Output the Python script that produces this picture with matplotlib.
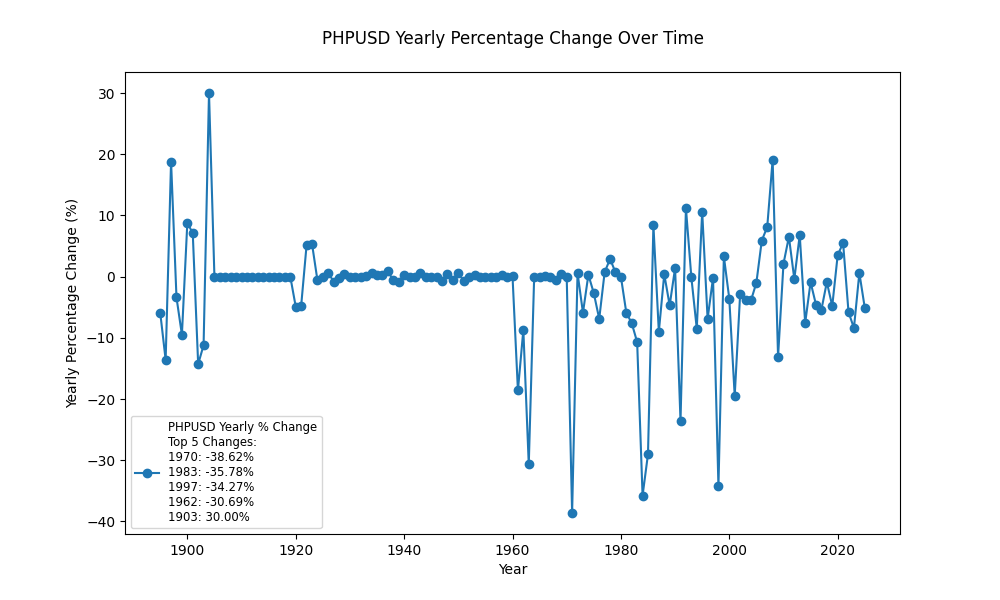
import matplotlib
matplotlib.use("Agg")
import matplotlib.pyplot as plt

years = list(range(1895, 2026))

early = [-5.9, -13.6, 18.8, -3.4, -9.5, 8.8, 7.1, -14.3, -11.2, 30.00]  # 1895-1904
flat1 = [0.0] * 15  # 1905-1919
mid = [-4.9, -4.8, 5.1, 5.4, -0.55, 0.0, 0.6, -0.8, -0.2, 0.5,   # 1920-1929
       0.0, 0.0, 0.0, 0.1, 0.6, 0.3, 0.2, 0.9, -0.6, -0.8,        # 1930-1939
       0.2, 0.0, 0.0, 0.6, 0.0, 0.0, 0.0, -0.7, 0.5, -0.5,        # 1940-1949
       0.6, -0.7, 0.0, 0.2, 0.0, 0.0, 0.0, 0.0, 0.2, -0.1,        # 1950-1959
       0.1]                                                       # 1960
late = [-18.6, -8.7, -30.69, 0.0, 0.0, 0.1, -0.1, -0.5, 0.4, 0.0,  # 1961-1970
        -38.62, 0.6, -5.9, 0.3, -2.7, -6.9, 0.7, 2.9, 0.7, 0.0,    # 1971-1980
        -5.9, -7.6, -10.7, -35.78, -29.0, 8.4, -9.0, 0.4, -4.7, 1.4,  # 1981-1990
        -23.6, 11.2, -0.1, -8.5, 10.6, -6.9, -0.2, -34.27, 3.3, -3.6,  # 1991-2000
        -19.5, -2.9, -3.8, -3.9, -1.0, 5.9, 8.1, 19.1, -13.1, 2.1,     # 2001-2010
        6.5, -0.4, 6.8, -7.6, -0.9, -4.6, -5.4, -0.9, -4.8, 3.5,       # 2011-2020
        5.5, -5.8, -8.4, 0.6, -5.1]                                    # 2021-2025
pct_change = early + flat1 + mid + late

legend_label = ("PHPUSD Yearly % Change\nTop 5 Changes:\n1970: -38.62%\n"
                "1983: -35.78%\n1997: -34.27%\n1962: -30.69%\n1903: 30.00%")

fig, ax = plt.subplots(figsize=(10, 6), dpi=100)
ax.plot(years, pct_change, marker='o', color='#1f77b4', label=legend_label)
ax.set_title("PHPUSD Yearly Percentage Change Over Time", pad=20)
ax.set_xlabel("Year")
ax.set_ylabel("Yearly Percentage Change (%)")
ax.legend(loc='lower left', fontsize='small')
fig.savefig("out.png")
